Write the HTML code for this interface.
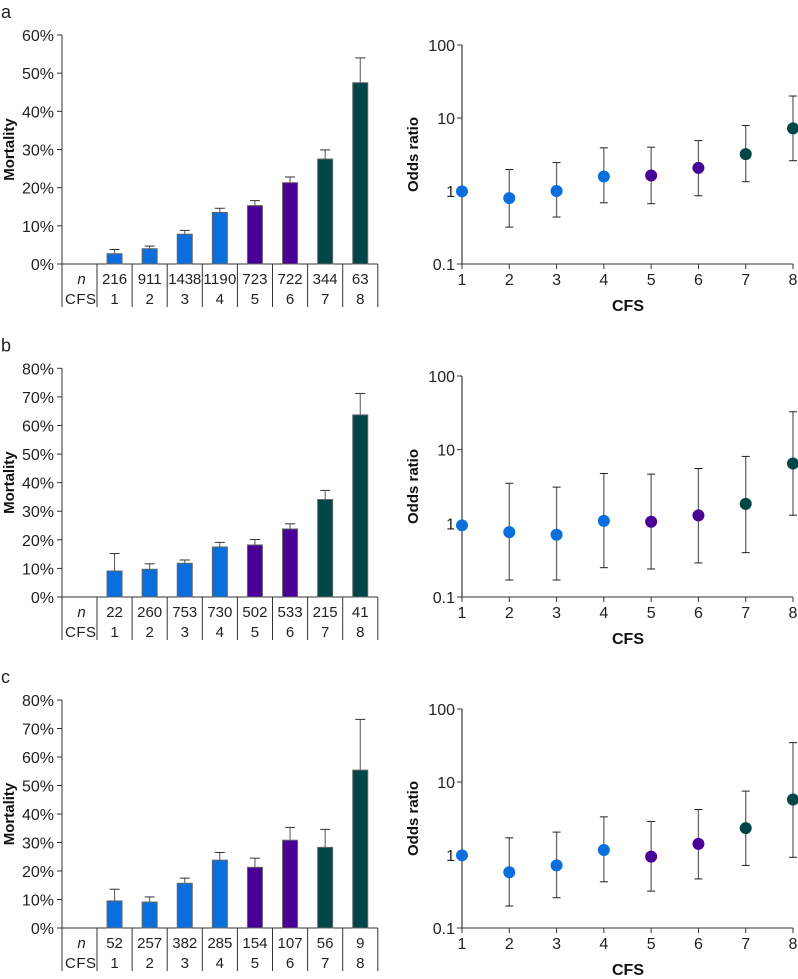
<!DOCTYPE html>
<html><head><meta charset="utf-8">
<style>
html,body{margin:0;padding:0;background:#fff;}
svg{display:block;font-family:"Liberation Sans",Arial,sans-serif;}
</style></head>
<body>
<svg id="fig" width="798" height="979" viewBox="0 0 798 979" xmlns="http://www.w3.org/2000/svg"></svg>
<script>
// Panel labels / categories
const panelLetters = ['a','b','c'];
const cfsCategories = [1,2,3,4,5,6,7,8];
const groupColor = ['#0a6fdc','#0a6fdc','#0a6fdc','#0a6fdc','#4a0096','#4a0096','#004646','#004646'];

// Panel a data
const mortA = [2.7, 4.0, 7.8, 13.5, 15.3, 21.3, 27.5, 47.5];
const mortErrA = [3.8, 4.7, 8.8, 14.6, 16.6, 22.8, 29.9, 54.0];
const nA = [216, 911, 1438, 1190, 723, 722, 344, 63];
const orA = [0.99, 0.8, 1.0, 1.58, 1.63, 2.07, 3.2, 7.2];
const orLoA = [null, 0.32, 0.44, 0.69, 0.67, 0.86, 1.34, 2.6];
const orHiA = [null, 1.97, 2.45, 3.9, 3.98, 4.9, 7.9, 20];
const mortTicksA = ['0%','10%','20%','30%','40%','50%','60%'];

// Panel b data
const mortB = [9.1, 9.7, 11.8, 17.5, 18.2, 23.8, 34.1, 63.7];
const mortErrB = [15.2, 11.6, 12.95, 19.1, 20.1, 25.6, 37.3, 71.2];
const nB = [22, 260, 753, 730, 502, 533, 215, 41];
const orB = [0.94, 0.76, 0.70, 1.08, 1.05, 1.28, 1.84, 6.5];
const orLoB = [null, 0.17, 0.17, 0.25, 0.24, 0.29, 0.40, 1.29];
const orHiB = [null, 3.5, 3.1, 4.75, 4.65, 5.55, 8.1, 32.7];
const mortTicksB = ['0%','10%','20%','30%','40%','50%','60%','70%','80%'];

// Panel c data
const mortC = [9.5, 9.1, 15.7, 23.8, 21.3, 30.8, 28.3, 55.4];
const mortErrC = [13.6, 10.9, 17.5, 26.5, 24.5, 35.3, 34.6, 73.2];
const nC = [52, 257, 382, 285, 154, 107, 56, 9];
const orC = [0.99, 0.58, 0.72, 1.17, 0.95, 1.42, 2.33, 5.75];
const orLoC = [null, 0.20, 0.26, 0.43, 0.32, 0.47, 0.72, 0.93];
const orHiC = [null, 1.72, 2.06, 3.33, 2.88, 4.2, 7.5, 34.6];
const mortTicksC = ['0%','10%','20%','30%','40%','50%','60%','70%','80%'];

const orTicks = [0.1, 1, 10, 100];
const orTickLabels = ['0.1','1','10','100'];

const NS = 'http://www.w3.org/2000/svg';
const svg = document.getElementById('fig');
function mk(tag, attrs, parent, text){
  const e = document.createElementNS(NS, tag);
  for (const k in attrs) e.setAttribute(k, attrs[k]);
  if (text !== undefined) e.textContent = text;
  (parent||svg).appendChild(e);
  return e;
}

function drawPanel(idx, top, zero, orTop, mort, mortErr, ns, orv, orLo, orHi, ticks){
  const g = mk('g', {});
  
  
  const lt = mk('text', {x:1, y:top-17, 'font-size':18, fill:'#222'}, g, panelLetters[idx]);
  
  

  // ---- bar chart ----
  const bg = mk('g', {}, g);
  
  
  const maxPct = (ticks.length-1)*10;
  const yS = v => zero - (v/maxPct)*(zero-top);
  const axL = 62, colW = 35.1, col0 = 97;
  const xC = i => col0 + colW*i + colW/2;
  mk('line', {x1:axL, y1:top, x2:axL, y2:zero+43, stroke:'#333', 'stroke-width':1}, bg);
  mk('line', {x1:axL-5, y1:zero, x2:col0+colW*8, y2:zero, stroke:'#333', 'stroke-width':1}, bg);
  ticks.forEach((t,i)=>{
    const v = i*10, y = yS(v);
    mk('line', {x1:axL-5, y1:y, x2:axL, y2:y, stroke:'#333'}, bg);
    const tx = mk('text', {x:54, y:y+6, 'font-size':16, 'text-anchor':'end', fill:'#222'}, bg, t);
    
    
  });
  const yl = mk('text', {x:0, y:0, 'font-size':15, 'font-weight':'bold', 'text-anchor':'middle', fill:'#111',
    transform:`translate(14,${(top+zero)/2}) rotate(-90)`}, bg, 'Mortality');
  
  
  for (let i=0;i<=8;i++){
    const x = col0 + colW*i;
    mk('line', {x1:x, y1:zero, x2:x, y2:zero+43, stroke:'#333'}, bg);
  }
  const nl = mk('text', {x:(axL+col0)/2+2, y:zero+20, 'font-size':15, 'font-style':'italic', 'text-anchor':'middle', fill:'#222'}, bg, 'n');
  
  
  const cl = mk('text', {x:(axL+col0)/2+1, y:zero+40, 'font-size':15, 'text-anchor':'middle', fill:'#222', textLength:31}, bg, 'CFS');
  
  
  mort.forEach((v,i)=>{
    const x = xC(i), w = 15;
    const ye = yS(mortErr[i]);
    mk('line', {x1:x, y1:yS(v), x2:x, y2:ye, stroke:'#555'}, bg);
    mk('line', {x1:x-5, y1:ye, x2:x+5, y2:ye, stroke:'#333'}, bg);
    const r = mk('rect', {x:x-w/2, y:yS(v), width:w, height:zero-yS(v), fill:groupColor[i], stroke:'#666', 'stroke-width':1}, bg);
    
    
    const attrs = {x:x, y:zero+20, 'font-size':15, 'text-anchor':'middle', fill:'#222'};
    if (String(ns[i]).length>3) attrs.textLength = 33;
    const nt = mk('text', attrs, bg, ns[i]);
    
    
    const ct = mk('text', {x:x, y:zero+40, 'font-size':15, 'text-anchor':'middle', fill:'#222'}, bg, cfsCategories[i]);
    
    
  });

  // ---- odds ratio chart ----
  const og = mk('g', {}, g);
  
  
  const ox0 = 462, ox1 = 793;
  const oX = c => ox0 + (c-1)*(ox1-ox0)/7;
  const oY = v => zero - (Math.log10(v)+1)/3*(zero-orTop);
  mk('line', {x1:ox0, y1:orTop, x2:ox0, y2:zero, stroke:'#888', 'stroke-width':2}, og);
  mk('line', {x1:ox0, y1:zero, x2:ox1, y2:zero, stroke:'#333', 'stroke-width':1}, og);
  orTicks.forEach((t,i)=>{
    const y = oY(t);
    mk('line', {x1:ox0-5, y1:y, x2:ox0, y2:y, stroke:'#333'}, og);
    const tx = mk('text', {x:455, y:y+6, 'font-size':16, 'text-anchor':'end', fill:'#222'}, og, orTickLabels[i]);
    
    
  });
  cfsCategories.forEach(c=>{
    const x = oX(c);
    mk('line', {x1:x, y1:zero, x2:x, y2:zero+5, stroke:'#333'}, og);
    const tx = mk('text', {x:x, y:zero+21, 'font-size':16, 'text-anchor':'middle', fill:'#222'}, og, c);
    
    
  });
  const xt = mk('text', {x:628, y:zero+47, 'font-size':16, 'font-weight':'bold', 'text-anchor':'middle', fill:'#111'}, og, 'CFS');
  
  
  const ot = mk('text', {x:0, y:0, 'font-size':15, 'font-weight':'bold', 'text-anchor':'middle', fill:'#111',
    transform:`translate(418,${(orTop+zero)/2}) rotate(-90)`}, og, 'Odds ratio');
  
  
  orv.forEach((v,i)=>{
    const x = oX(cfsCategories[i]);
    if (orLo[i] !== null){
      const yl = oY(orLo[i]), yh = oY(orHi[i]);
      mk('line', {x1:x, y1:yh, x2:x, y2:yl, stroke:'#666', 'stroke-width':1.3}, og);
      mk('line', {x1:x-4, y1:yh, x2:x+4, y2:yh, stroke:'#222'}, og);
      mk('line', {x1:x-4, y1:yl, x2:x+4, y2:yl, stroke:'#222'}, og);
    }
    const d = mk('circle', {cx:x, cy:oY(v), r:6, fill:groupColor[i]}, og);
    
    
  });
}

drawPanel(0, 35, 264, 45, mortA, mortErrA, nA, orA, orLoA, orHiA, mortTicksA);
drawPanel(1, 368.3, 597, 376, mortB, mortErrB, nB, orB, orLoB, orHiB, mortTicksB);
drawPanel(2, 700, 928, 709, mortC, mortErrC, nC, orC, orLoC, orHiC, mortTicksC);
</script>
</body></html>
